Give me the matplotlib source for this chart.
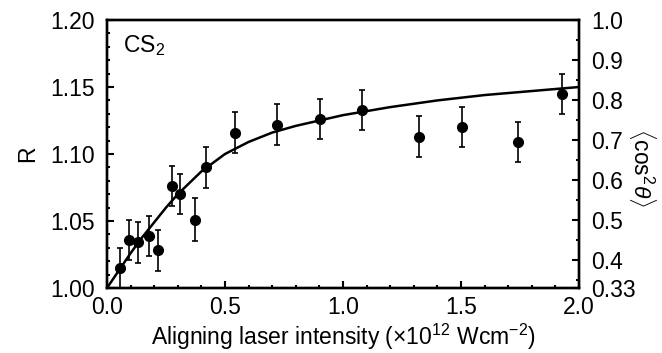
import numpy as np
import matplotlib
matplotlib.use('Agg')
import matplotlib.pyplot as plt
from matplotlib.ticker import MultipleLocator

plt.rcParams['font.family'] = ['Liberation Sans', 'DejaVu Sans']
plt.rcParams['mathtext.fontset'] = 'custom'
plt.rcParams['mathtext.rm'] = 'Liberation Sans'
plt.rcParams['mathtext.it'] = 'Liberation Sans:italic'

# measured points
intensity = [0.055, 0.095, 0.133, 0.178, 0.215, 0.274, 0.309, 0.371, 0.419,
             0.542, 0.722, 0.903, 1.082, 1.323, 1.503, 1.743, 1.927]
ratio = [1.015, 1.036, 1.034, 1.039, 1.028, 1.076, 1.070, 1.051, 1.090,
         1.116, 1.122, 1.126, 1.133, 1.113, 1.120, 1.109, 1.145]
ratio_err = [0.015, 0.015, 0.015, 0.015, 0.015, 0.015, 0.015, 0.016, 0.015,
             0.015, 0.015, 0.015, 0.015, 0.015, 0.015, 0.015, 0.015]

# fitted curve
fit_x = [0.0, 0.05, 0.1, 0.15, 0.2, 0.25, 0.3, 0.4, 0.5, 0.6, 0.7, 0.8,
         1.0, 1.2, 1.4, 1.6, 1.8, 2.0]
fit_y = [1.000, 1.013, 1.026, 1.038, 1.049, 1.060, 1.070, 1.087, 1.100,
         1.109, 1.116, 1.121, 1.129, 1.135, 1.140, 1.144, 1.147, 1.150]

cos2_ticks = [0.33, 0.4, 0.5, 0.6, 0.7, 0.8, 0.9, 1.0]
cos2_labels = ['0.33', '0.4', '0.5', '0.6', '0.7', '0.8', '0.9', '1.0']

fs = 16.5

fig, ax = plt.subplots(figsize=(6.62, 3.53), dpi=100)
fig.subplots_adjust(left=0.1616, right=0.8746, top=0.9433, bottom=0.1841)

ax.plot(fit_x, fit_y, color='black', lw=1.8, zorder=2)
ax.errorbar(intensity, ratio, yerr=ratio_err, fmt='o', color='black',
            ms=7, elinewidth=1.2, capsize=2.5, capthick=1.2, zorder=3)

ax.set_xlim(0, 2.0)
ax.set_ylim(1.0, 1.2)
ax.xaxis.set_major_locator(MultipleLocator(0.5))
ax.xaxis.set_minor_locator(MultipleLocator(0.1))
ax.yaxis.set_major_locator(MultipleLocator(0.05))
ax.yaxis.set_minor_locator(MultipleLocator(0.01))
ax.xaxis.set_major_formatter(plt.FormatStrFormatter('%.1f'))
ax.yaxis.set_major_formatter(plt.FormatStrFormatter('%.2f'))
ax.tick_params(which='both', direction='in', top=False, right=False, width=1.5)
ax.tick_params(which='major', length=5, labelsize=fs)
ax.tick_params(which='minor', length=2.5)
ax.tick_params(axis='x', pad=6)
ax.tick_params(axis='y', pad=9)
for s in ax.spines.values():
    s.set_linewidth(1.7)

ax.set_xlabel(r'Aligning laser intensity ($\times$10$^{12}$ Wcm$^{-2}$)', fontsize=fs, labelpad=2)
ax.set_ylabel('R', fontsize=fs, labelpad=8)
ax.text(0.035, 0.95, r'CS$_2$', transform=ax.transAxes, fontsize=fs, va='top', ha='left')

ax2 = ax.twinx()
ax2.set_ylim(0.33, 1.0)
ax2.set_yticks(cos2_ticks)
ax2.set_yticklabels(cos2_labels)
ax2.yaxis.set_minor_locator(MultipleLocator(0.05))
ax2.tick_params(which='both', direction='in', width=1.5, pad=9)
ax2.tick_params(which='major', length=5, labelsize=fs)
ax2.tick_params(which='minor', length=2.5)
ax2.set_ylabel(r'$\langle$cos$^2\theta\rangle$', fontsize=fs, rotation=270, va='center')
ax2.yaxis.set_label_coords(1.135, 0.45)
for s in ax2.spines.values():
    s.set_linewidth(1.7)

fig.savefig('out.png', dpi=100)
